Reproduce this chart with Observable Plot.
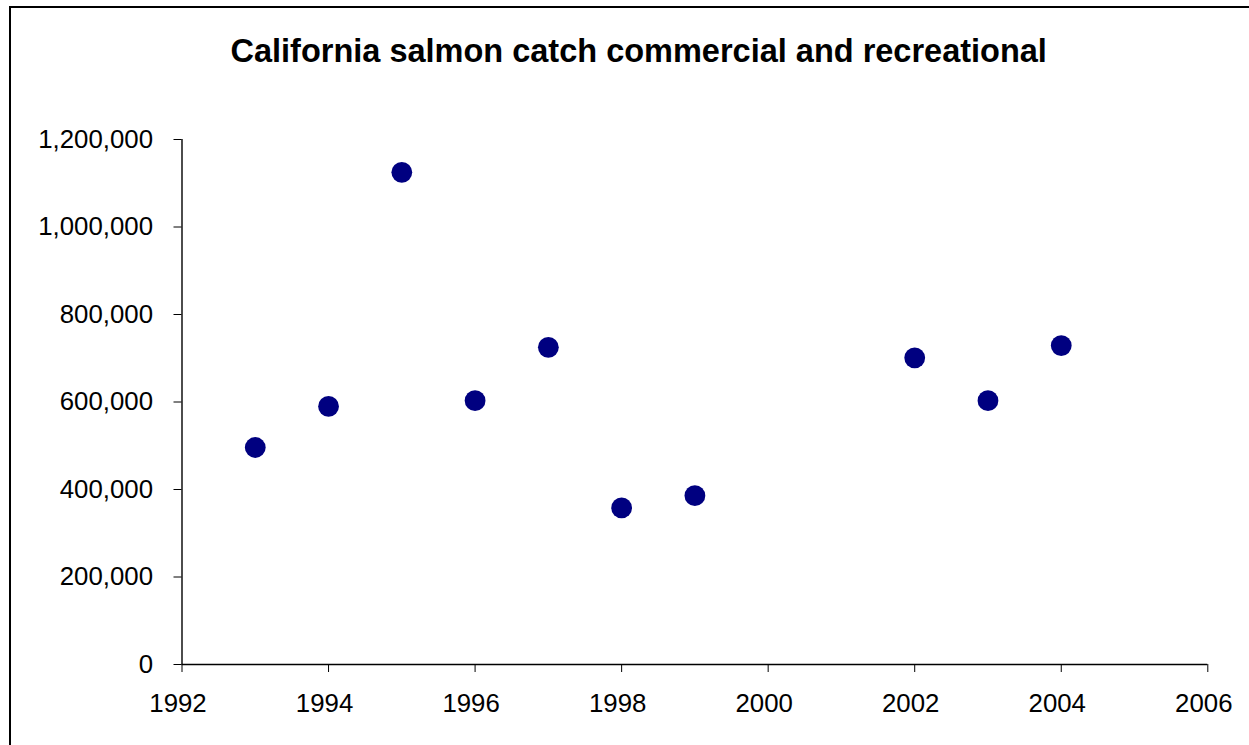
<!DOCTYPE html>
<html>
<head>
<meta charset="utf-8">
<script src="https://cdn.jsdelivr.net/npm/d3@7"></script>
<script src="https://cdn.jsdelivr.net/npm/@observablehq/plot@0.6"></script>
<style>
  html, body { margin: 0; padding: 0; background: #fff; overflow: hidden; }
  #page { position: relative; width: 1249px; height: 745px; overflow: hidden; }
  #frame { position: absolute; left: 9px; top: 6px; width: 1300px; height: 800px;
           border: 2px solid #000; z-index: 5; pointer-events: none; }
  #title { position: relative; height: 100px; }
  #title span { position: absolute; left: 638.7px; top: 35.2px; transform: translateX(-50%);
                white-space: nowrap; font: bold 32.5px/1 "Liberation Sans", Arial, sans-serif; color: #000; }
</style>
</head>
<body>
<div id="page">
  <div id="frame"></div>
  <div id="title"><span>California salmon catch commercial and recreational</span></div>
  <div id="chart"></div>
</div>
<script>
const years = [1993, 1994, 1995, 1996, 1997, 1998, 1999, 2002, 2003, 2004];
const catchValues = [496000, 590000, 1125000, 603000, 725000, 358000, 386000, 701000, 603000, 729000];
const xTicks = [1992, 1994, 1996, 1998, 2000, 2002, 2004, 2006];
const yTicks = [0, 200000, 400000, 600000, 800000, 1000000, 1200000];

const data = years.map((y, i) => ({year: y, value: catchValues[i]}));

const chart = Plot.plot({
  width: 1249,
  height: 645,
  marginTop: 39,
  marginBottom: 81,
  marginLeft: 181.5,
  marginRight: 41.7,
  style: {fontSize: "25.8px", fontFamily: "'Liberation Sans', Arial, sans-serif", color: "#000", background: "transparent"},
  x: {domain: [1992, 2006]},
  y: {domain: [0, 1200000]},
  marks: [
    Plot.axisX({ticks: xTicks, tickSize: 8, text: null, label: null, stroke: "#000"}),
    Plot.axisX({ticks: xTicks, tickFormat: d3.format("d"), tickSize: 0, tickPadding: 29, dx: -4, label: null, fill: "#000"}),
    Plot.axisY({ticks: yTicks, tickFormat: d3.format(","), tickSize: 8, tickPadding: 21, label: null, stroke: "#000", fill: "#000"}),
    Plot.ruleX([1992], {stroke: "#000", strokeWidth: 1.4}),
    Plot.ruleY([0], {stroke: "#000", strokeWidth: 1.4}),
    Plot.dot(data, {x: "year", y: "value", r: 10.4, fill: "#000080", stroke: "none"})
  ]
});
document.getElementById("chart").appendChild(chart);
</script>
</body>
</html>
